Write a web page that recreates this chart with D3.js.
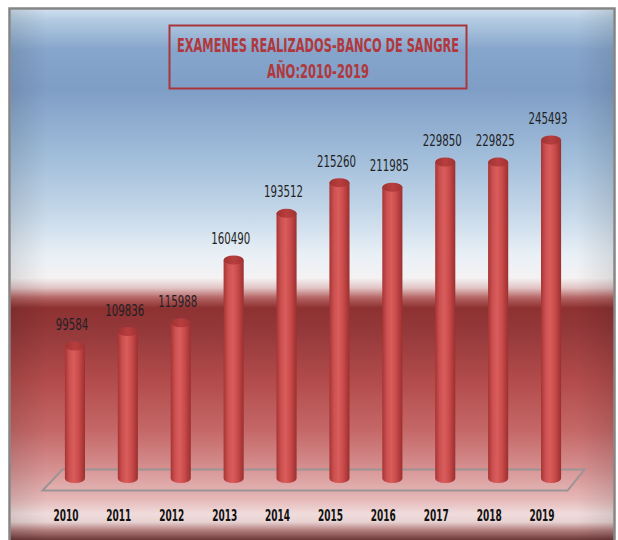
<!DOCTYPE html>
<html>
<head>
<meta charset="utf-8">
<script src="https://cdn.jsdelivr.net/npm/d3@7"></script>
<style>
  html, body { margin: 0; padding: 0; background: #fff; }
  svg { display: block; }
</style>
</head>
<body>
<svg id="chart" width="618" height="540"></svg>
<script>
// Exámenes realizados por año en el Banco de Sangre
const years = ["2010", "2011", "2012", "2013", "2014", "2015", "2016", "2017", "2018", "2019"];
const exams = [99584, 109836, 115988, 160490, 193512, 215260, 211985, 229850, 229825, 245493];
const titleLines = ["EXAMENES REALIZADOS-BANCO DE SANGRE", "AÑO:2010-2019"];

const data = years.map((y, i) => ({ year: y, value: exams[i] }));

const svg = d3.select("#chart");
const defs = svg.append("defs");

const narrow = "'Liberation Sans Narrow', 'DejaVu Sans Condensed', 'Arial Narrow', sans-serif";

// Background: sky blue fading to white, then deep red fading to pink, dark edge at the bottom
const bg = defs.append("linearGradient").attr("id", "bg")
  .attr("gradientUnits", "userSpaceOnUse")
  .attr("x1", 0).attr("y1", 8).attr("x2", 0).attr("y2", 540);
[
  [8, "#d3e2f0"], [20, "#b3cbe2"], [50, "#86a5cb"], [90, "#7f9ec6"],
  [150, "#9dbad8"], [210, "#c3d6e8"], [255, "#e9f0f6"], [278, "#f4f2f3"],
  [288, "#e2c4c4"], [298, "#b46262"], [308, "#8d3131"], [330, "#94383a"],
  [380, "#b24b4b"], [430, "#c56767"], [470, "#d69191"], [500, "#e6b9b9"],
  [514, "#f0dcdc"], [522, "#e8d2d2"], [530, "#b58080"], [540, "#6c3838"]
].forEach(([y, c]) => bg.append("stop").attr("offset", ((y - 8) / 532)).attr("stop-color", c));

// Soft side shading
const side = defs.append("linearGradient").attr("id", "side")
  .attr("x1", 0).attr("x2", 1).attr("y1", 0).attr("y2", 0);
side.append("stop").attr("offset", 0).attr("stop-color", "#000").attr("stop-opacity", 0.10);
side.append("stop").attr("offset", 0.06).attr("stop-color", "#000").attr("stop-opacity", 0);
side.append("stop").attr("offset", 0.94).attr("stop-color", "#000").attr("stop-opacity", 0);
side.append("stop").attr("offset", 1).attr("stop-color", "#000").attr("stop-opacity", 0.10);

// Cylinder body shading
const cyl = defs.append("linearGradient").attr("id", "cyl")
  .attr("x1", 0).attr("x2", 1).attr("y1", 0).attr("y2", 0);
[[0, "#a63434"], [0.22, "#cc5050"], [0.45, "#d85d5b"], [0.7, "#c94a4a"], [1, "#9c2f2f"]]
  .forEach(([o, c]) => cyl.append("stop").attr("offset", o).attr("stop-color", c));

const cap = defs.append("linearGradient").attr("id", "cap")
  .attr("x1", 0).attr("x2", 1).attr("y1", 0).attr("y2", 0);
[[0, "#a13232"], [0.5, "#b83e3e"], [1, "#a13232"]]
  .forEach(([o, c]) => cap.append("stop").attr("offset", o).attr("stop-color", c));

// Frame
svg.append("rect").attr("x", 9.5).attr("y", 8.5).attr("width", 605).attr("height", 540)
  .attr("fill", "url(#bg)").attr("stroke", "#858585").attr("stroke-width", 2.5);
svg.append("rect").attr("x", 11).attr("y", 10).attr("width", 602).attr("height", 530)
  .attr("fill", "url(#side)");

// Title box
svg.append("rect").attr("x", 169.5).attr("y", 25.5).attr("width", 297).attr("height", 63)
  .attr("fill", "none").attr("stroke", "#a8363b").attr("stroke-width", 2);
svg.append("g").selectAll("text").data(titleLines).join("text")
  .attr("x", 318).attr("y", (d, i) => 51.5 + i * 26)
  .attr("text-anchor", "middle")
  .attr("font-family", narrow).attr("font-weight", "bold").attr("font-size", 19)
  .attr("fill", "#b0383d")
  .attr("textLength", (d, i) => i === 0 ? 282 : 102)
  .attr("lengthAdjust", "spacingAndGlyphs")
  .text(d => d);

// Scales
const x = d3.scaleBand().domain(years).range([48.5, 577.5]).paddingInner(0.62).paddingOuter(0.31);
const y = d3.scaleLinear().domain([0, 300000]).range([486.6, 63]);

const floorDepth = 8;     // base of each cylinder sits this far behind the front of the floor
const ry = 4.5;           // ellipse radius of the cylinder ends

// Floor
const [r0, r1] = x.range();
const fy0 = y(0) - 17, fy1 = y(0) + 4;
svg.append("path")
  .attr("d", `M${r0 + 14},${fy0} L${r1 + 7},${fy0} L${r1 - 10},${fy1} L${r0 - 6},${fy1} Z`)
  .attr("fill", "rgba(255,255,255,0.06)")
  .attr("stroke", "#9b9495").attr("stroke-width", 2);

// Cylinders
const bars = svg.append("g").selectAll("g").data(data).join("g");
bars.append("path")
  .attr("d", d => {
    const x0 = x(d.year), w = x.bandwidth(), rx = w / 2;
    const top = y(d.value), base = y(0) - floorDepth;
    return `M${x0},${top} L${x0},${base} A${rx},${ry} 0 0 0 ${x0 + w},${base} L${x0 + w},${top} Z`;
  })
  .attr("fill", "url(#cyl)");
bars.append("ellipse")
  .attr("cx", d => x(d.year) + x.bandwidth() / 2)
  .attr("cy", d => y(d.value))
  .attr("rx", x.bandwidth() / 2).attr("ry", ry)
  .attr("fill", "url(#cap)");

// Value labels
bars.append("text")
  .attr("x", d => x(d.year) + x.bandwidth() / 2 - 3)
  .attr("y", d => y(d.value) - 16)
  .attr("text-anchor", "middle")
  .attr("font-family", narrow).attr("font-size", 16)
  .attr("fill", "#1f1f24")
  .attr("textLength", d => String(d.value).length * 6.5)
  .attr("lengthAdjust", "spacingAndGlyphs")
  .text(d => d.value);

// Category axis (year labels)
const xAxis = d3.axisBottom(x).tickSize(0).tickPadding(0);
const ax = svg.append("g").attr("transform", `translate(-9, 510)`).call(xAxis);
ax.select(".domain").remove();
ax.selectAll("text")
  .attr("font-family", narrow).attr("font-weight", "bold").attr("font-size", 16)
  .attr("fill", "#111")
  .attr("textLength", 25)
  .attr("lengthAdjust", "spacingAndGlyphs");
</script>
</body>
</html>
